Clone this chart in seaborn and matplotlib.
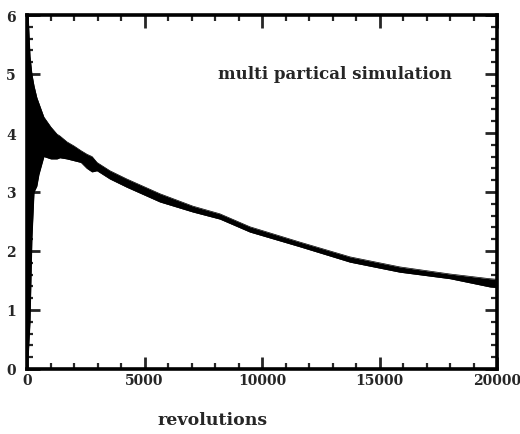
import matplotlib
matplotlib.use("Agg")
import matplotlib.pyplot as plt
import seaborn as sns
import pandas as pd
from matplotlib.ticker import MultipleLocator

# envelope of the oscillating beam-size band
revs = [0, 50, 130, 210, 300, 420, 510, 720, 1020, 1280, 1400, 1700, 2000, 2300,
        2550, 2770, 2980, 3530, 4250, 5660, 7060, 8210, 9490, 11620, 13750,
        15870, 18000, 19700, 20000]
upper = [5.9, 6.0, 5.3, 5.0, 4.8, 4.6, 4.5, 4.27, 4.1, 3.98, 3.95, 3.85, 3.78, 3.7,
         3.64, 3.6, 3.5, 3.36, 3.22, 2.97, 2.76, 2.63, 2.41, 2.15, 1.90,
         1.73, 1.61, 1.53, 1.52]
lower = [0.3, 0.2, 0.8, 2.2, 3.0, 3.1, 3.3, 3.6, 3.56, 3.56, 3.58, 3.56, 3.53, 3.5,
         3.4, 3.34, 3.36, 3.22, 3.08, 2.83, 2.66, 2.54, 2.32, 2.07, 1.81,
         1.64, 1.53, 1.39, 1.38]
x_ticks = [0, 5000, 10000, 15000, 20000]
x_tick_labels = ["0", "5000", "10000", "15000", "20000"]
y_ticks = [0, 1, 2, 3, 4, 5, 6]
y_tick_labels = ["0", "1", "2", "3", "4", "5", "6"]
annotation = "multi partical simulation"
x_label = "revolutions"

sns.set_style("ticks")
plt.rcParams["font.family"] = ["DejaVu Serif"]

df = pd.DataFrame({"rev": revs, "upper": upper, "lower": lower})

fig = plt.figure(figsize=(5.2, 4.35), dpi=100)
ax = fig.add_axes([27 / 520, 1 - 370 / 435, 470 / 520, 354 / 435])

ax.fill_between(df["rev"], df["lower"], df["upper"], color="black", lw=0)
sns.lineplot(data=df, x="rev", y="upper", ax=ax, color="black", lw=0.5)
sns.lineplot(data=df, x="rev", y="lower", ax=ax, color="black", lw=0.5)

ax.set_xlim(0, 20000)
ax.set_ylim(0, 6)
ax.set_xticks(x_ticks)
ax.set_xticklabels(x_tick_labels)
ax.set_yticks(y_ticks)
ax.set_yticklabels(y_tick_labels)
ax.xaxis.set_minor_locator(MultipleLocator(1000))
ax.yaxis.set_minor_locator(MultipleLocator(0.2))
ax.tick_params(which="major", direction="in", length=9, width=2, top=True, right=True,
               labelsize=10, pad=3)
ax.tick_params(which="minor", direction="in", length=4, width=1.6, top=True, right=True)
for lab in ax.get_xticklabels() + ax.get_yticklabels():
    lab.set_fontweight("heavy")
ax.tick_params(axis="y", pad=8)
for s in ax.spines.values():
    s.set_linewidth(2.6)
    s.set_color("black")
ax.set_xlabel("")
ax.set_ylabel("")

fig.text(213 / 520, 1 - 421 / 435, x_label, ha="center", va="center",
         fontsize=12.5, fontweight="heavy")
ax.text(0.655, 0.836, annotation, transform=ax.transAxes, ha="center",
        va="center", fontsize=12, fontweight="heavy")

fig.savefig("out.png", dpi=100, facecolor="white")
